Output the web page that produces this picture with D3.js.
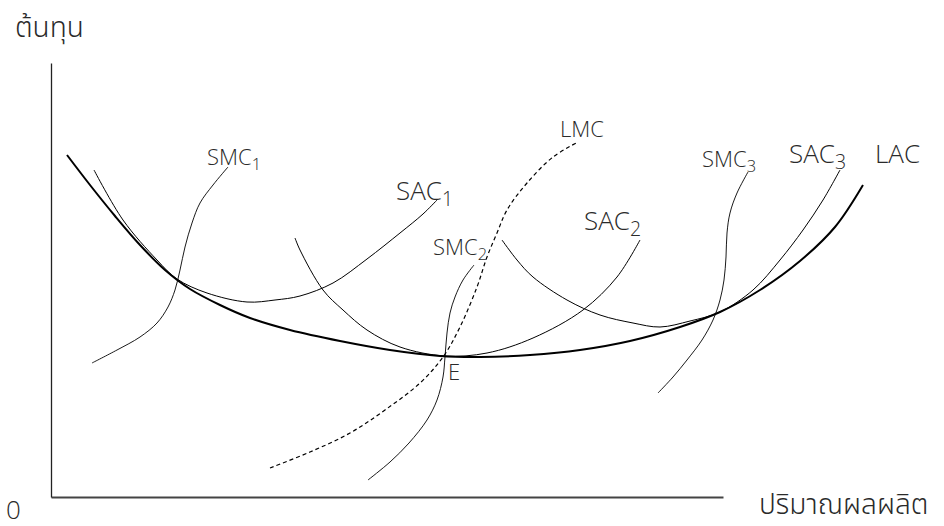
<!DOCTYPE html>
<html>
<head>
<meta charset="utf-8">
<script src="https://cdn.jsdelivr.net/npm/d3@7"></script>
<style>
  body { margin:0; background:#fff; }
  svg text { fill:#2a2a2a; font-family:"Open Sans","Noto Sans",sans-serif; font-weight:300; }
  .th { font-family:"Noto Sans Thai","Noto Sans","Leelawadee UI",sans-serif; }
</style>
</head>
<body>
<svg id="chart" width="944" height="526"></svg>
<script>
// units: quantity along x, cost along y
var LAC  = [[1.6,34.2],[3.9,31.2],[6.4,28.1],[8.9,25.2],[11.4,22.7],[13.9,20.8],[16.9,19.2],[19.9,17.9],[23.9,16.7],[28.9,15.6],[33.9,14.7],[38.9,14.1],[42.9,14.0],[47.9,14.2],[52.9,14.7],[57.9,15.6],[62.9,17.0],[66.9,18.5],[70.9,20.7],[74.9,23.6],[78.4,27.0],[81.2,31.2]];
var SAC1 = [[4.3,32.7],[7.2,27.7],[10.6,23.7],[12.6,21.8],[15.6,20.4],[19.6,19.5],[22.4,19.7],[24.9,20.1],[28.2,21.4],[31.6,23.8],[34.9,26.4],[37.2,28.3],[38.6,29.7]];
var SAC2 = [[24.4,25.9],[24.9,24.7],[27.2,20.7],[29.2,18.7],[31.6,16.7],[34.9,15.0],[39.4,14.1],[43.6,14.4],[48.2,15.9],[53.2,18.7],[56.6,22.0],[58.9,25.7]];
var SAC3 = [[45.1,25.7],[46.6,23.7],[48.2,22.0],[51.6,19.7],[54.9,18.2],[58.2,17.4],[60.9,17.0],[63.9,17.6],[66.9,18.5],[70.2,20.7],[72.9,23.7],[75.2,26.7],[77.2,29.7],[78.9,32.7]];
var SMC1 = [[4.1,13.4],[6.6,14.7],[8.9,16.0],[10.6,17.4],[11.7,19.0],[12.4,20.7],[12.9,22.7],[13.4,25.0],[14.1,27.4],[14.9,29.4],[16.2,31.2],[17.7,33.0]];
var SMC2 = [[31.7,1.7],[33.9,3.5],[35.8,5.4],[37.6,7.7],[38.6,9.7],[39.2,12.0],[39.4,14.0],[39.6,16.4],[39.9,18.4],[40.4,20.0],[41.2,21.7],[42.3,23.2]];
var SMC3 = [[60.7,10.4],[62.2,12.0],[63.6,13.7],[65.1,15.7],[66.2,17.7],[66.9,19.7],[67.3,21.7],[67.5,24.0],[67.6,26.4],[67.9,28.4],[68.6,30.4],[69.7,32.5]];
var LMC  = [[21.9,2.9],[25.9,4.5],[29.9,6.4],[33.4,8.7],[36.9,11.4],[39.2,14.0],[40.9,17.0],[42.6,21.0],[43.6,24.0],[44.6,26.4],[45.6,28.7],[47.6,31.4],[50.2,34.0],[52.7,35.5]];

// labels: name, subscript, anchor point [q, c], size
var labels = [
  ["SMC","1",[15.6,33.2],"s"],
  ["SAC","1",[34.5,29.7],"b"],
  ["SMC","2",[38.2,24.2],"s"],
  ["LMC","",[50.9,36.0],"m"],
  ["SAC","2",[53.3,26.7],"b"],
  ["SMC","3",[65.1,33.0],"s"],
  ["SAC","3",[73.8,33.4],"b"],
  ["LAC","",[82.4,33.4],"b"],
  ["E","",[39.7,11.7],"m"]
];
var xTitle = "ปริมาณผลผลิต", yTitle = "ต้นทุน", origin = "0";

var svg = d3.select("#chart");
var x = d3.scaleLinear().domain([0,84]).range([51,891]),
    y = d3.scaleLinear().domain([0,43.4]).range([497,63]);
var xEnd = 67.2; // x axis stops short of the curves

// axes without ticks
svg.append("g")
   .attr("transform","translate(0,"+y(0)+")")
   .call(d3.axisBottom(d3.scaleLinear().domain([0,xEnd]).range([x(0),x(xEnd)])).tickValues([]).tickSizeOuter(0))
   .select(".domain").attr("stroke","#444").attr("stroke-width",2);
svg.append("g")
   .attr("transform","translate("+x(0)+",0)")
   .call(d3.axisLeft(y).tickValues([]).tickSizeOuter(0))
   .select(".domain").attr("stroke","#222").attr("stroke-width",1.3);

var line = d3.line()
   .x(function(d){ return x(d[0]) })
   .y(function(d){ return y(d[1]) })
   .curve(d3.curveCatmullRom.alpha(0.5));

function curve(data, w, dash) {
  var p = svg.append("path")
     .attr("d", line(data))
     .attr("fill","none")
     .attr("stroke","#000")
     .attr("stroke-width", w);
  if(dash) p.attr("stroke-dasharray", dash);
  return p;
}
curve(SAC1,1);
curve(SAC2,1);
curve(SAC3,1);
curve(SMC1,0.9);
curve(SMC2,0.9);
curve(SMC3,0.9);
curve(LMC,1.2,"4,3");
curve(LAC,2);

var sizes = {s:22, m:22, b:26};
labels.forEach(function(l) {
  var fs = sizes[l[3]];
  var t = svg.append("text")
     .attr("x", x(l[2][0]))
     .attr("y", y(l[2][1]))
     .attr("font-size", fs)
     .text(l[0]);
  if(l[1]) t.append("tspan")
     .attr("dy", fs*0.22)
     .attr("font-size", fs*0.75)
     .text(l[1]);
});

svg.append("text").attr("class","th").attr("x",15).attr("y",37).attr("font-size",28).text(yTitle);
svg.append("text").attr("class","th").attr("x",759).attr("y",514).attr("font-size",28).text(xTitle);
svg.append("text").attr("x",6).attr("y",519).attr("font-size",26).text(origin);
</script>
</body>
</html>
